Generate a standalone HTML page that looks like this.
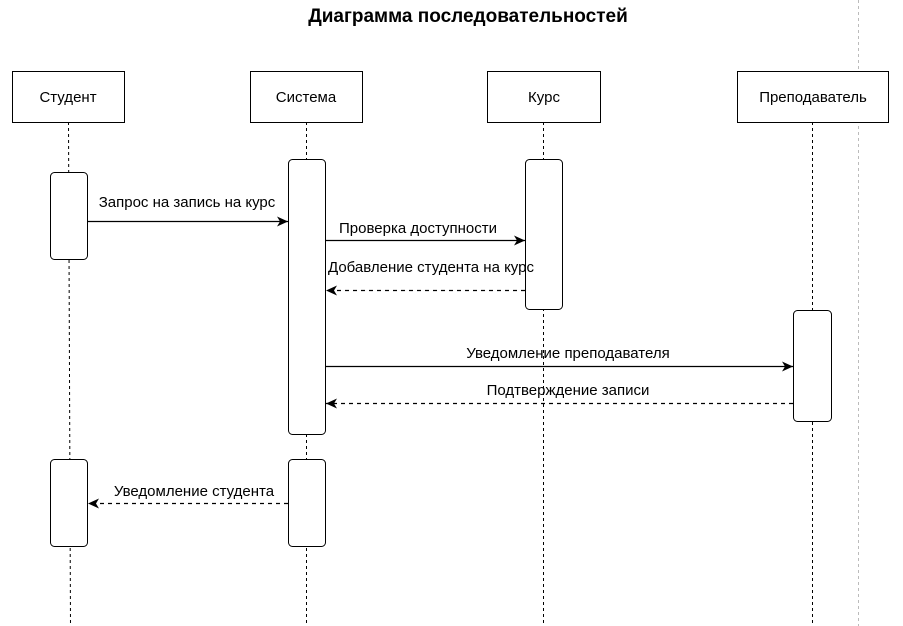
<!DOCTYPE html>
<html><head><meta charset="utf-8"><style>body{margin:0;background:#fff}svg{display:block}text{font-family:"Liberation Sans",sans-serif;font-size:15px;fill:#000}</style></head><body>
<svg width="903" height="626" viewBox="0 0 903 626">
<defs><marker id="a" markerWidth="12" markerHeight="10" refX="11" refY="5" orient="auto" markerUnits="userSpaceOnUse"><path d="M0,0 L11,5 L0,10 L3,5 Z" fill="#000"/></marker></defs>
<rect width="903" height="626" fill="#fff"/>
<text x="468" y="22" text-anchor="middle" style="font-weight:bold;font-size:19px">Диаграмма последовательностей</text>
<line x1="858.5" y1="0" x2="858.5" y2="626" stroke="#bbb" stroke-dasharray="3,3"/>
<g stroke="#000" stroke-dasharray="3,3">
<line x1="68.5" y1="122" x2="70.5" y2="626"/>
<line x1="306.5" y1="122" x2="306.5" y2="626"/>
<line x1="543.5" y1="122" x2="543.5" y2="626"/>
<line x1="812.5" y1="122" x2="812.5" y2="626"/>
</g>
<g fill="#fff" stroke="#000">
<rect x="12.5" y="71.5" width="112" height="51"/>
<rect x="250.5" y="71.5" width="112" height="51"/>
<rect x="487.5" y="71.5" width="113" height="51"/>
<rect x="737.5" y="71.5" width="151" height="51"/>
<rect x="50.5" y="172.5" width="37" height="87" rx="4"/>
<rect x="50.5" y="459.5" width="37" height="87" rx="4"/>
<rect x="288.5" y="159.5" width="37" height="275" rx="4"/>
<rect x="288.5" y="459.5" width="37" height="87" rx="4"/>
<rect x="525.5" y="159.5" width="37" height="150" rx="4"/>
<rect x="793.5" y="310.5" width="38" height="111" rx="4"/>
</g>
<text x="68" y="102" text-anchor="middle">Студент</text>
<text x="306" y="102" text-anchor="middle">Система</text>
<text x="544" y="102" text-anchor="middle">Курс</text>
<text x="813" y="102" text-anchor="middle">Преподаватель</text>
<g stroke="#000" stroke-width="1.3">
<line x1="87" y1="221.5" x2="288" y2="221.5" marker-end="url(#a)"/>
<line x1="325" y1="240.5" x2="525" y2="240.5" marker-end="url(#a)"/>
<line x1="525" y1="290.5" x2="326" y2="290.5" stroke-dasharray="4,4" marker-end="url(#a)"/>
<line x1="325" y1="366.5" x2="793" y2="366.5" marker-end="url(#a)"/>
<line x1="793" y1="403.5" x2="326" y2="403.5" stroke-dasharray="4,4" marker-end="url(#a)"/>
<line x1="288" y1="503.5" x2="88" y2="503.5" stroke-dasharray="4,4" marker-end="url(#a)"/>
</g>
<text x="187" y="207" text-anchor="middle">Запрос на запись на курс</text>
<text x="418" y="233" text-anchor="middle">Проверка доступности</text>
<text x="431" y="272" text-anchor="middle">Добавление студента на курс</text>
<text x="568" y="358" text-anchor="middle">Уведомление преподавателя</text>
<text x="568" y="395" text-anchor="middle">Подтверждение записи</text>
<text x="194" y="496" text-anchor="middle">Уведомление студента</text>
</svg>
</body></html>
